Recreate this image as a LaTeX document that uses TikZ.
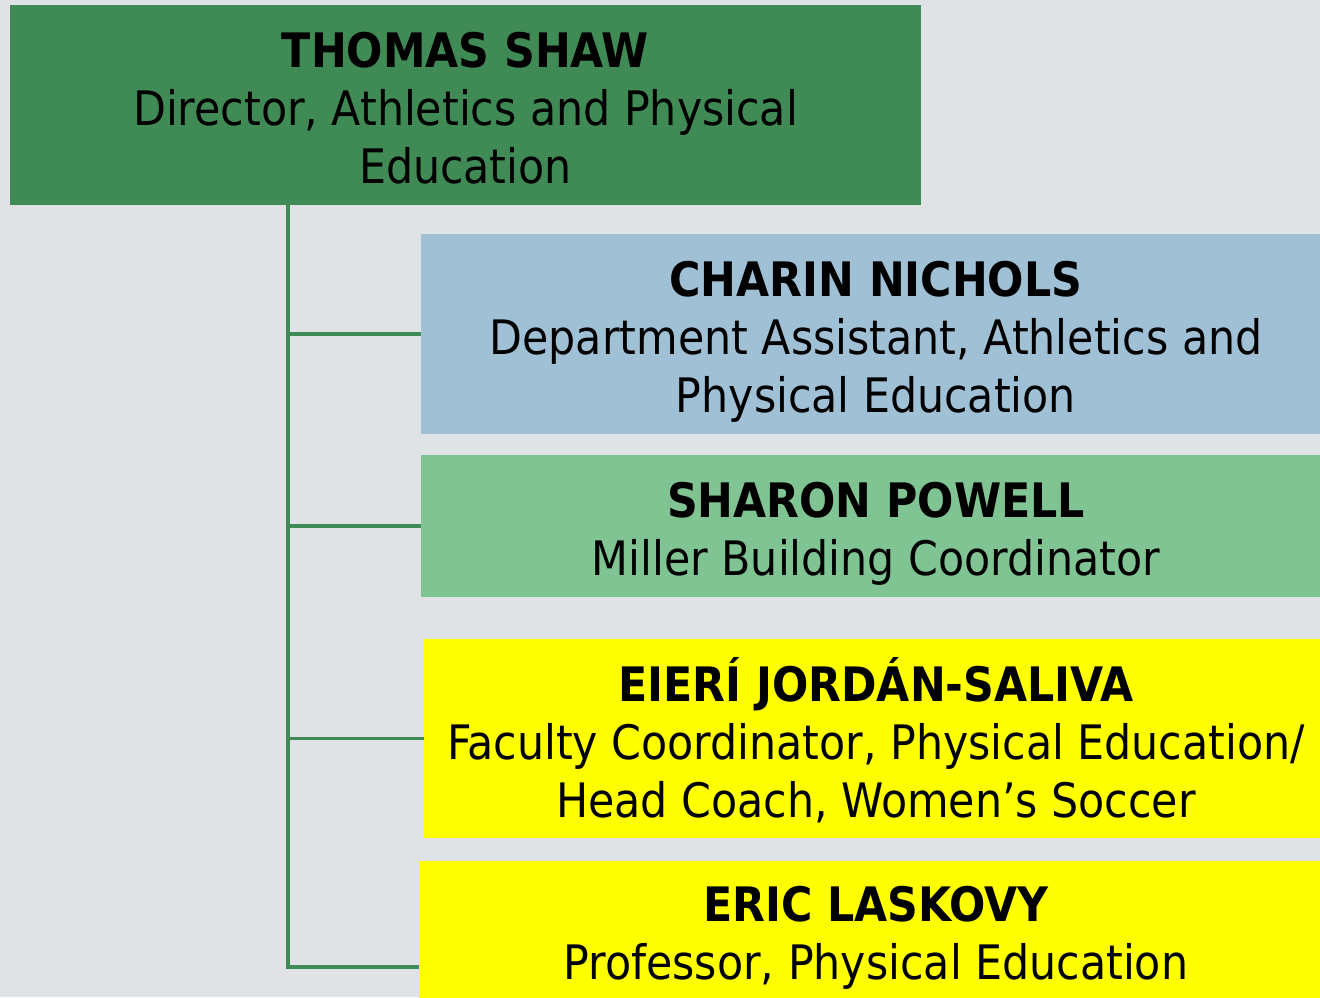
\documentclass[tikz,border=0pt]{standalone}
\usepackage{fontspec}
\setmainfont{DejaVu Sans Condensed}
\usepackage{tikz}
\usetikzlibrary{positioning}
\definecolor{pagebg}{HTML}{DFE3E6}
\definecolor{bossgreen}{HTML}{3F8A55}
\definecolor{staffblue}{HTML}{A0C0D6}
\definecolor{staffgreen}{HTML}{80C494}
\definecolor{staffyellow}{HTML}{FFFF00}
% name line and title lines, with fixed first-line height and last-line depth
\newcommand{\staffpost}[2]{\rule{0pt}{56pt}\textbf{#1}\\#2\rule[-15pt]{0pt}{15pt}}
\tikzset{
  every node/.style={
    font=\fontsize{47.5}{58}\selectfont
  },
  post/.style={
    shape=rectangle,
    inner sep=0pt,
    align=center,
    text=black
  },
  director/.style={
    post,
    fill=bossgreen,
    minimum width=911pt,
    minimum height=200pt
  },
  assistant/.style={
    post,
    fill=staffblue,
    minimum width=910pt,
    minimum height=200pt
  },
  coordinator/.style={
    post,
    fill=staffgreen,
    minimum width=910pt,
    minimum height=142pt
  },
  faculty/.style={
    post,
    fill=staffyellow,
    minimum width=904pt,
    minimum height=199pt
  },
  branch/.style={
    draw=bossgreen,
    line width=3.5pt
  }
}

\begin{document}
\begin{tikzpicture}[x=1pt,y=-1pt]
  \useasboundingbox[fill=pagebg] (0,0) rectangle (1320,997);
  \node[director] (shaw) at (465.5,105) {\staffpost{THOMAS SHAW}{Director, Athletics and Physical\\Education}};
  \node[assistant] (nichols) at (876,334) {\staffpost{CHARIN NICHOLS}{Department Assistant, Athletics and\\Physical Education}};
  \node[coordinator] (powell) at (876,526) {\staffpost{SHARON POWELL}{Miller Building Coordinator}};
  \node[faculty] (jordan) at (876,738.5) {\staffpost{EIERÍ JORDÁN-SALIVA}{Faculty Coordinator, Physical Education/\\Head Coach, Women’s Soccer}};
  \node[faculty, minimum width=914pt, minimum height=138pt] (laskovy) at (876,930) {\staffpost{ERIC LASKOVY}{Professor, Physical Education}};
  % tree lines
  \coordinate (trunk) at (288,205);
  \draw[branch] (trunk) |- (nichols.west);
  \draw[branch] (trunk) |- (powell.west);
  \draw[branch] (trunk) |- (jordan.west);
  \draw[branch] (trunk) |- ([yshift=-37pt]laskovy.west);
\end{tikzpicture}
\end{document}
